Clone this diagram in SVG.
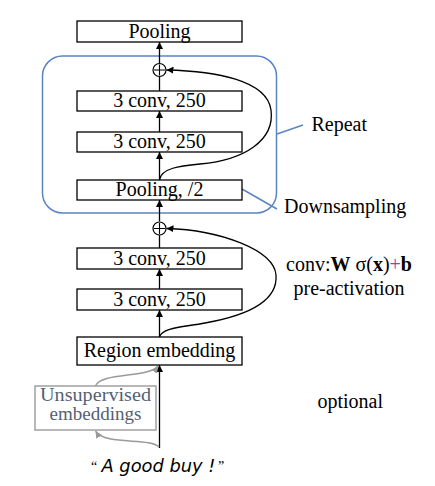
<svg xmlns="http://www.w3.org/2000/svg" width="435" height="486" viewBox="0 0 435 486">
<defs>
<style>
.box{fill:#fff;stroke:#000;stroke-width:1.3}
.t{font-family:"Liberation Serif","Times New Roman",serif;font-size:20px;fill:#000}
.c{text-anchor:middle}
.ln{fill:none;stroke:#000;stroke-width:1.3}
.gl{fill:none;stroke:#9a9a9a;stroke-width:1.5}
.bl{fill:none;stroke:#5b84c4;stroke-width:1.5}
.u{font-size:18px;fill:#555f73}
</style>
<marker id="ah" viewBox="0 0 10 10" refX="10" refY="5" markerWidth="7" markerHeight="7" markerUnits="userSpaceOnUse" orient="auto">
<path d="M0,0 L10,5 L0,10 z" fill="#000"/>
</marker>
<marker id="ahg" viewBox="0 0 10 10" refX="10" refY="5" markerWidth="7" markerHeight="7" markerUnits="userSpaceOnUse" orient="auto">
<path d="M0,0 L10,5 L0,10 z" fill="#9a9a9a"/>
</marker>
</defs>
<rect width="435" height="486" fill="#fff"/>

<g id="repeat-block">
<rect class="bl" x="42.5" y="56" width="234" height="157" rx="20" ry="20"/>
</g>

<g id="connectors">
<line class="ln" x1="159.5" y1="63.5" x2="159.5" y2="42" marker-end="url(#ah)"/>
<line class="ln" x1="159.5" y1="91" x2="159.5" y2="76.5"/>
<line class="ln" x1="159.5" y1="132" x2="159.5" y2="111" marker-end="url(#ah)"/>
<line class="ln" x1="159.5" y1="180" x2="159.5" y2="152" marker-end="url(#ah)"/>
<line class="ln" x1="159.5" y1="221.5" x2="159.5" y2="200" marker-end="url(#ah)"/>
<line class="ln" x1="159.5" y1="248" x2="159.5" y2="235"/>
<line class="ln" x1="159.5" y1="289" x2="159.5" y2="269" marker-end="url(#ah)"/>
<line class="ln" x1="159.5" y1="337" x2="159.5" y2="310" marker-end="url(#ah)"/>
<line class="ln" x1="159.5" y1="448" x2="159.5" y2="365" marker-end="url(#ah)"/>
<path class="ln" d="M159.5,180 C161,168 180,166 200,164 C245,160 275,140 271,110 C267,80 215,71 166.5,70" marker-end="url(#ah)"/>
<path class="ln" d="M159.5,337 C162,327 185,327 205,323 C250,315 278,300 276,275 C274,250 220,230 166.5,228.5" marker-end="url(#ah)"/>
<path class="gl" d="M159,447 C150,437 105,446 95.5,431" marker-end="url(#ahg)"/>
<path class="gl" d="M95.5,386 C100,372 150,378 158,366" marker-end="url(#ahg)"/>
<line class="bl" x1="277" y1="134" x2="303" y2="125"/>
<line class="bl" x1="242" y1="189" x2="277" y2="209"/>
</g>

<g id="pooling">
<rect class="box" x="77" y="21" width="165" height="21"/>
<text class="t c" x="159.5" y="37.5">Pooling</text>
</g>
<g id="add1">
<circle cx="159.5" cy="70" r="6.5" fill="#fff" stroke="#000" stroke-width="1.2"/>
<path d="M154,70 H165 M159.5,64.5 V75.5" stroke="#000" stroke-width="1.1"/>
</g>
<g id="conv1">
<rect class="box" x="77" y="91" width="165" height="20"/>
<text class="t c" x="159.5" y="107">3 conv, 250</text>
</g>
<g id="conv2">
<rect class="box" x="77" y="132" width="165" height="20"/>
<text class="t c" x="159.5" y="148">3 conv, 250</text>
</g>
<g id="pool2">
<rect class="box" x="77" y="180" width="165" height="20"/>
<text class="t c" x="159.5" y="195.5">Pooling, /2</text>
</g>
<g id="add2">
<circle cx="159.5" cy="228.5" r="6.5" fill="#fff" stroke="#000" stroke-width="1.2"/>
<path d="M154,228.5 H165 M159.5,223 V234" stroke="#000" stroke-width="1.1"/>
</g>
<g id="conv3">
<rect class="box" x="77" y="248" width="165" height="21"/>
<text class="t c" x="159.5" y="264.5">3 conv, 250</text>
</g>
<g id="conv4">
<rect class="box" x="77" y="289" width="165" height="21"/>
<text class="t c" x="159.5" y="305.5">3 conv, 250</text>
</g>
<g id="region">
<rect class="box" x="77" y="337" width="165" height="28"/>
<text class="t c" x="159.5" y="357">Region embedding</text>
</g>
<g id="unsup">
<rect x="35" y="386" width="121" height="44" fill="#fff" stroke="#a0a0a0" stroke-width="1.5"/>
<text class="t c u" x="95.5" y="400.5" textLength="111" lengthAdjust="spacingAndGlyphs">Unsupervised</text>
<text class="t c u" x="95.5" y="420" textLength="92" lengthAdjust="spacingAndGlyphs">embeddings</text>
</g>
<g id="input">
<text class="t" x="91" y="471" style="font-size:14px">“</text>
<text x="101.5" y="471.5" textLength="114" lengthAdjust="spacingAndGlyphs" style="font-family:'DejaVu Sans',sans-serif;font-style:italic;font-size:18px;fill:#000">A good buy !</text>
<text class="t" x="218" y="471" style="font-size:14px">”</text>
</g>
<g id="labels">
<text class="t" x="311.5" y="130.5">Repeat</text>
<text class="t" x="284" y="213">Downsampling</text>
<text class="t c" x="349" y="271">conv:<tspan font-weight="bold">W</tspan> σ(<tspan font-weight="bold">x</tspan>)<tspan fill="#a0409a">+</tspan><tspan font-weight="bold">b</tspan></text>
<text class="t c" x="349" y="295">pre-activation</text>
<text class="t" x="317.5" y="408">optional</text>
</g>
</svg>
